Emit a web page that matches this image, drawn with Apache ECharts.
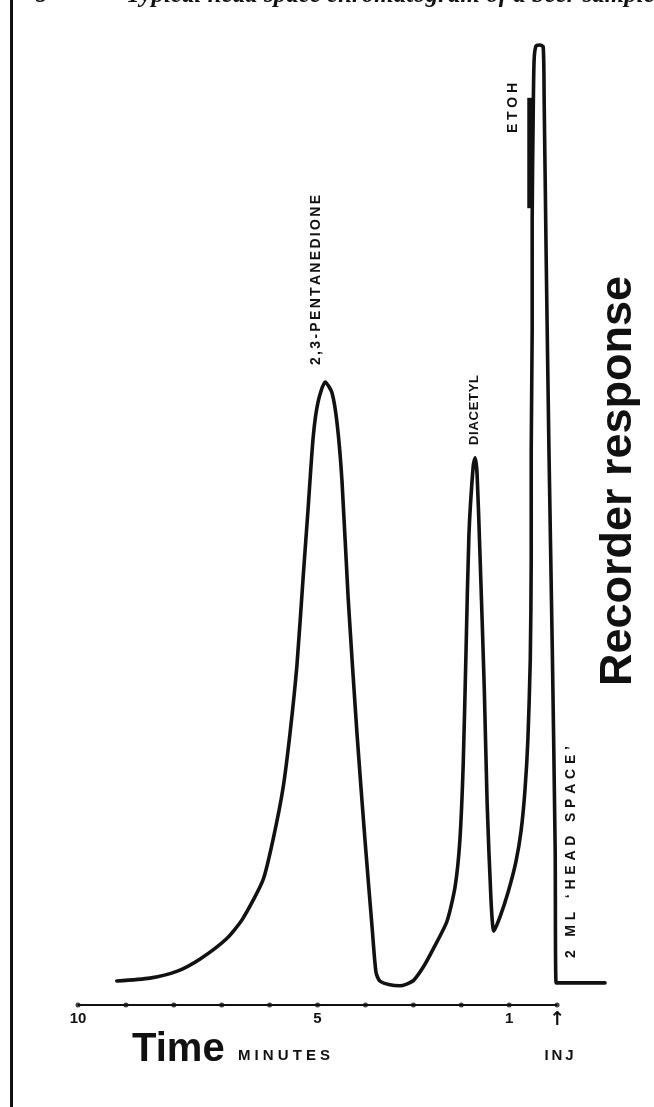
<!DOCTYPE html>
<html>
<head>
<meta charset="utf-8">
<script src="https://cdn.jsdelivr.net/npm/echarts@6/dist/echarts.min.js"></script>
<style>html,body{margin:0;padding:0;background:#fff;}#c{width:654px;height:1107px;}</style>
</head>
<body>
<div id="c"></div>
<script>
// ---- data (time in minutes before injection, recorder response in arbitrary units) ----
const traceTime = [9.19, 8.50, 7.94, 7.45, 6.90, 6.56, 6.14, 5.93, 5.72, 5.57, 5.43, 5.30, 5.20, 5.09, 4.99, 4.84, 4.70, 4.59, 4.49, 4.36, 4.18, 4.01, 3.86, 3.78, 3.70, 3.49, 3.28, 3.01, 2.80, 2.59, 2.30, 2.13, 2.03, 1.96, 1.90, 1.84, 1.75, 1.71, 1.67, 1.61, 1.52, 1.46, 1.38, 1.32, 1.19, 1.02, 0.86, 0.75, 0.67, 0.61, 0.56, 0.54, 0.54, 0.52, 0.52, 0.50, 0.48, 0.44, 0.36, 0.29, 0.27, 0.23, 0.17, 0.10, 0.04, 0.02, -1.00];
const traceResponse = [2.5, 2.8, 3.5, 4.8, 6.9, 9.0, 13.0, 17.2, 22.6, 28.5, 35.4, 44.6, 51.5, 59.2, 62.8, 64.9, 63.8, 60.5, 54.6, 42.3, 28.5, 17.2, 8.0, 3.4, 2.5, 2.1, 2.0, 2.5, 3.9, 5.8, 8.7, 12.3, 17.1, 25.0, 37.0, 49.0, 56.2, 57.0, 55.3, 47.0, 33.0, 21.0, 11.0, 7.7, 9.2, 11.8, 14.9, 18.2, 22.4, 27.6, 35.9, 46.4, 57.8, 70.3, 81.8, 92.2, 98.4, 99.9, 100, 99.8, 94.3, 78.7, 57.8, 37.0, 16.2, 2.3, 2.3];
const etohMarkTime = [0.56, 0.56];
const etohMarkResponse = [94.5, 83.0];
const axisLineTime = [10, 0];
const tickMinutes = [10, 9, 8, 7, 6, 5, 4, 3, 2, 1, 0];
const tickLabels = {10: '10', 5: '5', 1: '1', 0: '{a|↑}'};
const peakLabels = ['2,3-PENTANEDIONE', 'DIACETYL', 'ETOH'];
const sampleLabel = '2 ML ‘HEAD SPACE’';
const yTitle = 'Recorder response';
const xTitle = 'Time';
const xUnit = 'MINUTES';
const injLabel = 'INJ';
const figLabel = 'Figure 3.';
const figTitle = 'Typical head space chromatogram of a beer sample';

// helper: letter-spaced text as rich tokens (one string, spacing via token widths)
const mctx = document.createElement('canvas').getContext('2d');
function spaced(str, size, family, weight, target) {
  mctx.font = weight + ' ' + size + 'px ' + family;
  const chars = Array.from(str);
  const w = chars.map(c => mctx.measureText(c).width);
  const nat = w.reduce((a, b) => a + b, 0);
  const sp = chars.length > 1 ? (target - nat) / (chars.length - 1) : 0;
  const rich = {};
  let text = '';
  chars.forEach((c, i) => {
    const k = 'c' + i;
    rich[k] = {width: w[i] + (i < chars.length - 1 ? sp : 0), fontSize: size, fontFamily: family, fontWeight: weight, fill: '#111', align: 'left'};
    text += '{' + k + '|' + c + '}';
  });
  return {text, rich};
}
function label(str, x, y, size, family, weight, target, rot) {
  const s = spaced(str, size, family, weight, target);
  return {type: 'text', x: x, y: y, rotation: rot || 0, z: 10,
    style: {text: s.text, rich: s.rich, align: 'center', verticalAlign: 'middle', fill: '#111'}};
}

const chart = echarts.init(document.getElementById('c'), null, {renderer: 'canvas'});
const LF = '"Liberation Sans", Arial, sans-serif';
chart.setOption({
  backgroundColor: '#fff',
  animation: false,
  grid: {left: 78, right: 49, top: 45, bottom: 102},
  xAxis: {
    type: 'value', inverse: true, min: -1, max: 10, interval: 1,
    axisLine: {show: false}, axisTick: {show: false}, splitLine: {show: false},
    axisLabel: {
      margin: 6, color: '#111', fontFamily: LF, fontWeight: 'bold', fontSize: 15,
      formatter: v => (tickLabels[v] !== undefined ? tickLabels[v] : ''),
      rich: {a: {fontSize: 19, fontFamily: '"DejaVu Sans", sans-serif', color: '#111'}}
    }
  },
  yAxis: {type: 'value', min: 0, max: 100, show: false},
  series: [
    {
      type: 'line', name: 'axis', clip: false, showSymbol: false, symbol: 'none',
      data: axisLineTime.map(t => [t, 0]),
      lineStyle: {color: '#111', width: 2.2}, z: 2
    },
    {
      type: 'line', name: 'trace', clip: false, showSymbol: false, symbol: 'none',
      smooth: 0.22,
      data: traceTime.map((t, i) => [t, traceResponse[i]]),
      lineStyle: {color: '#111', width: 3.6, join: 'round', cap: 'round'}, z: 3
    },
    {
      type: 'line', name: 'etoh', clip: false, showSymbol: false, symbol: 'none',
      data: etohMarkTime.map((t, i) => [t, etohMarkResponse[i]]),
      lineStyle: {color: '#111', width: 6}, z: 4
    },
    {
      type: 'scatter', name: 'ticks', clip: false, symbol: 'circle', symbolSize: 5,
      data: tickMinutes.map(t => [t, 0]), itemStyle: {color: '#111'}, z: 5
    }
  ],
  graphic: [
    {type: 'rect', shape: {x: 10, y: 0, width: 3, height: 1107}, style: {fill: '#111'}},
    {type: 'text', x: 13, y: -9, style: {text: figLabel, font: 'italic bold 25px "Liberation Serif", serif', fill: '#111', verticalAlign: 'middle'}},
    {type: 'text', x: 126, y: -4, style: {text: figTitle, font: 'italic bold 25px "Liberation Serif", serif', fill: '#111', verticalAlign: 'middle'}},
    label(peakLabels[0], 316, 280, 14, LF, 'bold', 170, Math.PI / 2),
    label(peakLabels[1], 474, 410, 13, LF, 'bold', 70, Math.PI / 2),
    label(peakLabels[2], 513, 108, 14, LF, 'bold', 50, Math.PI / 2),
    label(sampleLabel, 571, 852, 14, LF, 'bold', 212, Math.PI / 2),
    {type: 'text', x: 619, y: 481, rotation: Math.PI / 2, style: {text: yTitle, font: 'bold 45px ' + LF, fill: '#111', align: 'center', verticalAlign: 'middle'}},
    {type: 'text', x: 132, y: 1050, style: {text: xTitle, font: 'bold 40px ' + LF, fill: '#111', align: 'left', verticalAlign: 'middle'}},
    label(xUnit, 284, 1056, 15, LF, 'bold', 92, 0),
    label(injLabel, 559, 1056, 15, LF, 'bold', 29, 0)
  ]
});
</script>
</body>
</html>
